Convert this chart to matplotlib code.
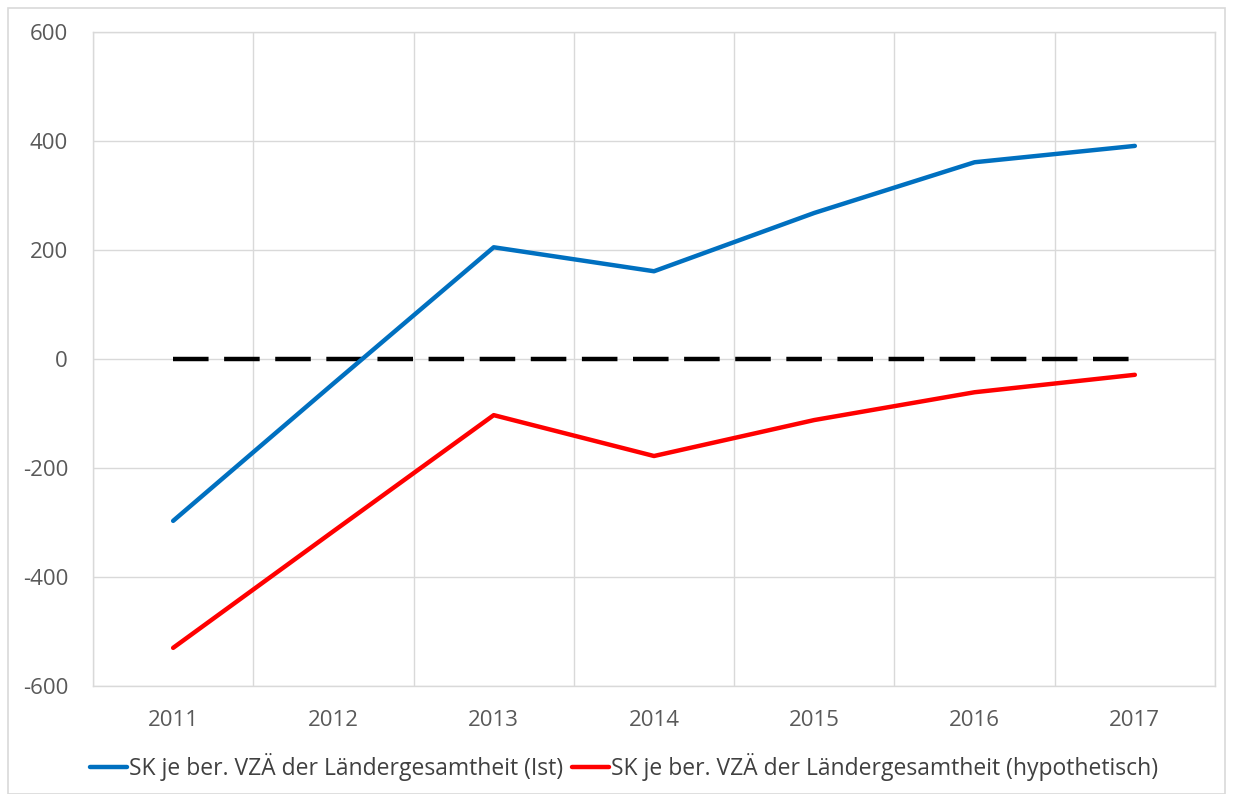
import matplotlib
matplotlib.use("Agg")
import matplotlib.pyplot as plt
from matplotlib.patches import Rectangle

years = ["2011", "2012", "2013", "2014", "2015", "2016", "2017"]
ist = [-297, -45, 205, 161, 268, 361, 391]
hypothetisch = [-530, -316, -103, -178, -112, -61, -29]
null_line = [0, 0, 0, 0, 0, 0, 0]
yticks = [-600, -400, -200, 0, 200, 400, 600]
label_ist = "SK je ber. VZÄ der Ländergesamtheit (Ist)"
label_hyp = "SK je ber. VZÄ der Ländergesamtheit (hypothetisch)"

plt.rcParams['font.family'] = ['Open Sans', 'DejaVu Sans']

fig = plt.figure(figsize=(12.33, 7.94), dpi=100)
ax = fig.add_axes([93/1233, 1-686/794, (1215-93)/1233, (686-32)/794])

# outer chart border
fig.patches.append(Rectangle((8/1233, 0), (1225-8)/1233, 1-8/794, transform=fig.transFigure,
                             fill=False, edgecolor="#D9D9D9", linewidth=1.2))

x = list(range(len(years)))
ax.plot(x, null_line, color="black", linewidth=3.2, dashes=(8, 3.5), solid_capstyle="butt")
l1, = ax.plot(x, ist, color="#0070C0", linewidth=3.2, label=label_ist, solid_capstyle="round")
l2, = ax.plot(x, hypothetisch, color="#FF0000", linewidth=3.2, label=label_hyp, solid_capstyle="round")

ax.set_xlim(-0.5, len(years) - 0.5)
ax.set_ylim(-600, 600)
ax.set_yticks(yticks)
ax.set_yticklabels([str(v) for v in yticks])
ax.set_xticks(x)
ax.set_xticklabels(years)
ax.set_xticks([i + 0.5 for i in range(-1, len(years))], minor=True)

ax.grid(False)
ax.yaxis.grid(True, which="major", color="#D9D9D9", linewidth=1)
ax.xaxis.grid(True, which="minor", color="#D9D9D9", linewidth=1)
ax.set_axisbelow(True)
for s in ax.spines.values():
    s.set_color("#D9D9D9")
    s.set_linewidth(1)
ax.tick_params(axis="both", which="both", length=0, labelsize=16, labelcolor="#595959")
ax.tick_params(axis="x", pad=17)
ax.tick_params(axis="y", pad=18)

fig.legend(handles=[l1, l2], loc="center", bbox_to_anchor=(624/1233, 1-767/794), ncol=2,
           frameon=False, fontsize=16.5, labelcolor="#404040", handlelength=1.6,
           handletextpad=0.1, columnspacing=0.4)

fig.savefig("out.png", dpi=100, facecolor="white")
